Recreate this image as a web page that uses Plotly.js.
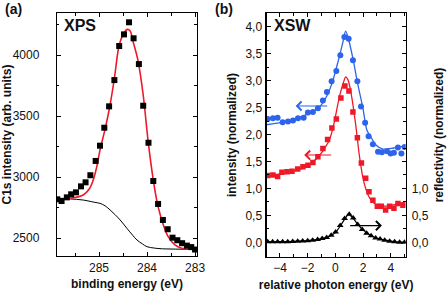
<!DOCTYPE html>
<html><head><meta charset="utf-8">
<script src="https://cdn.plot.ly/plotly-3.0.1.min.js"></script>
<style>html,body{margin:0;padding:0;background:#fff}#c{width:447px;height:293px}</style>
</head><body><div id="c"></div>
<script>
// ---- Panel (a): XPS C1s ----
const xpsE = [285.87,285.78,285.67,285.58,285.48,285.375,285.28,285.18,285.07,284.98,284.89,284.79,284.68,284.58,284.48,284.375,284.28,284.17,284.08,283.97,283.87,283.77,283.67,283.57,283.47,283.37,283.27,283.17,283.08,283.0];
const xpsI = [2819,2805,2835,2860,2876,2925,2958,3016,3133,3258,3405,3580,3795,4074,4169,4268,4137,3926,3585,3282,2969,2781,2650,2574,2505,2484,2460,2440,2428,2408];
const fitE = [285.88,285.6,285.33,285.2,285.12,285.05,284.98,284.87,284.77,284.68,284.58,284.48,284.41,284.35,284.29,284.19,284.08,283.98,283.87,283.77,283.66,283.56,283.42,283.28,283.1,282.97];
const fitI = [2827,2827,2854,2905,2977,3080,3222,3400,3591,3810,4082,4180,4210,4196,4109,3959,3673,3304,2977,2759,2609,2513,2445,2418,2410,2410];
const bgE = [285.88,285.6,285.33,285.1,284.98,284.87,284.77,284.67,284.56,284.42,284.3,284.21,284.1,284.0,283.85,283.73,283.5,283.1,282.97];
const bgI = [2827,2822,2813,2795,2786,2765,2732,2695,2650,2582,2525,2486,2455,2431,2420,2415,2412,2410,2410];

// ---- Panel (b): XSW ----
const blueX = [-4.89,-4.51,-4.17,-3.81,-3.42,-3.06,-2.70,-2.29,-1.98,-1.62,-1.26,-0.90,-0.61,-0.27,0.07,0.36,0.65,0.96,1.27,1.59,1.85,2.15,2.40,2.71,3.08,3.36,3.73,3.99,4.23,4.52,4.77,5.00];
const blueY = [2.29,2.30,2.31,2.23,2.24,2.26,2.30,2.31,2.41,2.42,2.49,2.63,2.79,2.99,3.18,3.47,3.81,3.78,3.38,2.99,2.52,2.22,1.97,1.82,1.68,1.67,1.69,1.65,1.66,1.76,1.65,1.77];
const blueFitX = [-5.05,-3.73,-3.06,-2.29,-1.62,-1.01,-0.53,-0.17,0.19,0.55,0.74,0.91,1.27,1.63,1.99,2.28,2.60,2.91,3.44,4.21,5.05];
const blueFitY = [2.18,2.23,2.27,2.35,2.42,2.55,2.76,3.01,3.35,3.72,3.92,3.81,3.41,2.92,2.49,2.08,1.94,1.81,1.73,1.75,1.79];
const redX = [-4.89,-4.51,-4.17,-3.86,-3.49,-3.13,-2.72,-2.34,-1.98,-1.62,-1.26,-0.90,-0.56,-0.25,0.07,0.40,0.69,0.98,1.27,1.59,1.88,2.19,2.43,2.71,3.03,3.32,3.63,3.92,4.23,4.52,4.88];
const redY = [1.24,1.25,1.22,1.30,1.31,1.32,1.36,1.40,1.43,1.48,1.59,1.74,1.91,2.12,2.29,2.68,2.90,2.81,2.42,1.94,1.47,1.19,0.94,0.78,0.67,0.67,0.60,0.67,0.63,0.72,0.69];
const redFitX = [-5.05,-3.73,-2.29,-1.33,-0.48,-0.12,0.17,0.42,0.64,0.74,0.92,1.18,1.47,1.75,2.04,2.40,2.77,3.56,4.28,5.05];
const redFitY = [1.22,1.28,1.38,1.56,1.87,2.18,2.55,2.83,3.01,3.07,3.01,2.70,2.18,1.58,1.14,0.86,0.73,0.67,0.70,0.75];
const blkX = [-4.89,-4.53,-4.17,-3.81,-3.44,-3.08,-2.72,-2.36,-2.0,-1.64,-1.28,-0.95,-0.63,-0.30,0.02,0.35,0.67,1.0,1.29,1.61,1.94,2.26,2.58,2.91,3.23,3.56,3.92,4.28,4.64,5.0];
const blkY = [0.01,0.01,0.01,0.01,0.01,0.015,0.02,0.025,0.03,0.04,0.05,0.07,0.09,0.13,0.19,0.31,0.44,0.52,0.45,0.33,0.24,0.17,0.12,0.08,0.06,0.04,0.02,0.01,0.0,0.0];
const blkFitX = [-5.05,-4.0,-3.0,-2.0,-1.0,-0.5,0.0,0.4,0.7,0.95,1.2,1.6,2.0,2.5,3.0,3.6,4.2,5.05];
const blkFitY = [0.01,0.012,0.017,0.03,0.065,0.1,0.18,0.32,0.44,0.52,0.47,0.34,0.23,0.13,0.075,0.04,0.015,0.0];

const BLUE = 'rgb(45,100,235)', RED = 'rgb(238,25,40)';
const FONT = 'Liberation Sans, Arial, sans-serif';

const traces = [
  {x: bgE, y: bgI, xaxis:'x', yaxis:'y', mode:'lines', line:{color:'#000', width:1, shape:'spline'}, hoverinfo:'skip'},
  {x: fitE, y: fitI, xaxis:'x', yaxis:'y', mode:'lines', line:{color:RED, width:1.6, shape:'spline', smoothing:0.8}},
  {x: xpsE, y: xpsI, xaxis:'x', yaxis:'y', mode:'markers', marker:{symbol:'square', size:6, color:'#000'}},
  {x: blueFitX, y: blueFitY, xaxis:'x2', yaxis:'y2', mode:'lines', line:{color:BLUE, width:1.3, shape:'spline', smoothing:0.8}},
  {x: blueX, y: blueY, xaxis:'x2', yaxis:'y2', mode:'markers', marker:{symbol:'circle', size:6, color:BLUE}},
  {x: redFitX, y: redFitY, xaxis:'x2', yaxis:'y2', mode:'lines', line:{color:RED, width:1.3, shape:'spline', smoothing:0.8}},
  {x: redX, y: redY, xaxis:'x2', yaxis:'y2', mode:'markers', marker:{symbol:'square', size:5.5, color:RED}},
  {x: blkFitX, y: blkFitY, xaxis:'x2', yaxis:'y3', mode:'lines', line:{color:'#000', width:1.2, shape:'spline', smoothing:0.8}},
  {x: blkX, y: blkY, xaxis:'x2', yaxis:'y3', mode:'markers', marker:{symbol:'triangle-up', size:6, color:'#000'}}
];

const axBase = {showline:true, linecolor:'#000', linewidth:1.2, mirror:'ticks', ticks:'inside', ticklen:4, tickwidth:1, tickcolor:'#000', showgrid:false, zeroline:false, automargin:false, tickfont:{family:FONT, size:12, color:'#111'}};
const minorB = {ticklen:2.5, tickwidth:1, tickcolor:'#000', ticks:'inside', showgrid:false};
const tFont = {family:FONT, size:12, color:'#111', weight:'bold'};

const layout = {
  width:447, height:293, margin:{l:0,r:0,t:0,b:0}, showlegend:false,
  paper_bgcolor:'#fff', plot_bgcolor:'#fff', separators:',.',
  xaxis: Object.assign({}, axBase, {domain:[0.1275,0.4407], range:[285.875,282.96], anchor:'y', dtick:1, tick0:283, minor:Object.assign({dtick:0.5}, minorB), tickformat:'d',
    title:{text:'<b>binding energy (eV)</b>', font:tFont, standoff:6}}),
  yaxis: Object.assign({}, axBase, {domain:[0.1263,0.9556], range:[2355,4344], anchor:'x', dtick:500, tick0:2500, minor:Object.assign({dtick:250}, minorB), tickformat:'d', ticklabelstandoff:14,
    title:{text:'<b>C1s intensity (arb. units)</b>', font:tFont, standoff:4}}),
  xaxis2: Object.assign({}, axBase, {domain:[0.5966,0.9076], range:[-4.96,5.08], anchor:'y2', dtick:2, tick0:0, minor:Object.assign({dtick:1}, minorB), tickformat:'d',
    title:{text:'<b>relative photon energy (eV)</b>', font:tFont, standoff:6}}),
  yaxis2: Object.assign({}, axBase, {domain:[0.1239,0.9546], range:[-0.267,4.25], anchor:'x2', dtick:0.5, tick0:0, minor:Object.assign({dtick:0.25}, minorB), tickformat:'.1f', ticklabelstandoff:1,
    title:{text:'<b>intensity (normalized)</b>', font:tFont, standoff:6}}),
  yaxis3: Object.assign({}, axBase, {overlaying:'y2', anchor:'x2', side:'right', range:[-0.267,4.25], tickvals:[0,0.5,1.0], tickformat:'.1f', ticks:'', showline:false, ticklabelstandoff:5,
    title:{text:'<b>reflectivity (normalized)</b>', font:tFont, standoff:6}}),
  annotations: [
    {xref:'paper', yref:'paper', x:3/447, y:1-9/293, xanchor:'left', yanchor:'middle', text:'<b>(a)</b>', showarrow:false, font:{family:FONT, size:14, color:'#111'}},
    {xref:'paper', yref:'paper', x:213/447, y:1-9/293, xanchor:'left', yanchor:'middle', text:'<b>(b)</b>', showarrow:false, font:{family:FONT, size:14, color:'#111'}},
    {xref:'paper', yref:'paper', x:62/447, y:1-25/293, xanchor:'left', yanchor:'middle', text:'<b>XPS</b>', showarrow:false, font:{family:FONT, size:16, color:'#111'}},
    {xref:'paper', yref:'paper', x:272/447, y:1-25/293, xanchor:'left', yanchor:'middle', text:'<b>XSW</b>', showarrow:false, font:{family:FONT, size:16, color:'#111'}},
    {xref:'x2', yref:'y2', x:-2.87, y:2.53, axref:'x2', ayref:'y2', ax:-0.48, ay:2.53, text:'', showarrow:true, arrowhead:4, arrowsize:1.6, arrowwidth:1.1, arrowcolor:BLUE},
    {xref:'x2', yref:'y2', x:-2.25, y:1.62, axref:'x2', ayref:'y2', ax:-0.2, ay:1.62, text:'', showarrow:true, arrowhead:4, arrowsize:1.6, arrowwidth:1.1, arrowcolor:RED},
    {xref:'x2', yref:'y2', x:3.36, y:0.31, axref:'x2', ayref:'y2', ax:0.96, ay:0.31, text:'', showarrow:true, arrowhead:4, arrowsize:1.6, arrowwidth:1.1, arrowcolor:'#000'}
  ]
};
Plotly.newPlot('c', traces, layout, {staticPlot:true, displayModeBar:false});
</script></body></html>
